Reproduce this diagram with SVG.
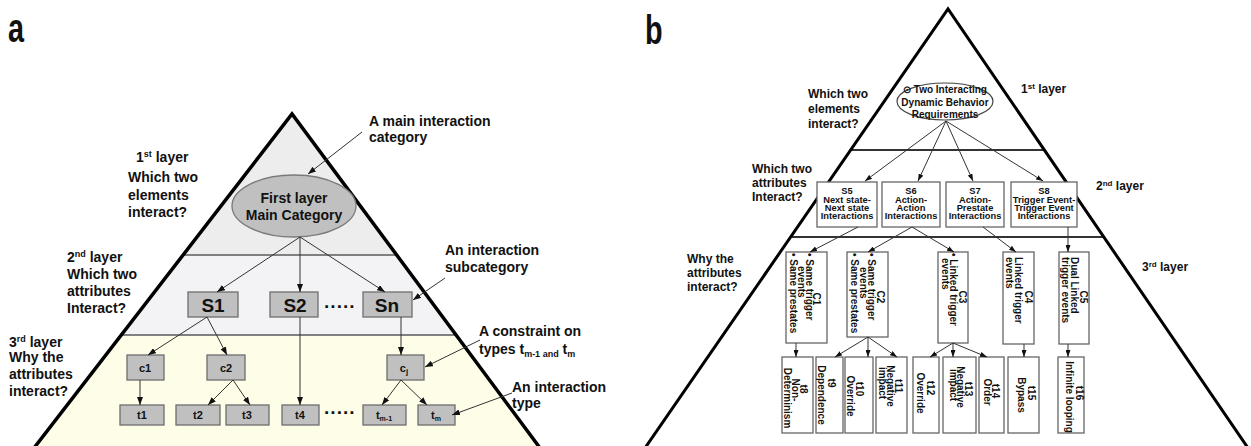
<svg xmlns="http://www.w3.org/2000/svg" width="1251" height="446" viewBox="0 0 1251 446">
  <defs>
    <marker id="ah" viewBox="0 0 8 6" refX="8" refY="3" markerWidth="8" markerHeight="6" markerUnits="userSpaceOnUse" orient="auto">
      <path d="M0,0 L8,3 L0,6 z" fill="#111"/>
    </marker>
    <marker id="ahs" viewBox="0 0 7 5" refX="7" refY="2.5" markerWidth="7" markerHeight="5" markerUnits="userSpaceOnUse" orient="auto">
      <path d="M0,0 L7,2.5 L0,5 z" fill="#111"/>
    </marker>
    <style>
      text { font-family: "Liberation Sans", Arial, sans-serif; fill: #111; }
      .b14 { font-size: 14px; font-weight: bold; }
      .b12 { font-size: 12px; font-weight: bold; }
      .b10 { font-size: 10px; font-weight: bold; }
      .s9 { font-size: 9.3px; font-weight: bold; }
      .big { font-size: 19px; font-weight: bold; }
      .sm { font-size: 11px; font-weight: bold; }
      .panel { font-size: 40px; font-weight: bold; }
      .gbox { fill: #c0c0c0; stroke: #6e6e6e; stroke-width: 1.3; }
      .wbox { fill: #ffffff; stroke: #666666; stroke-width: 1.3; }
      .edge { fill: none; stroke: #000; stroke-width: 3.5; stroke-linejoin: miter; }
      .sep { stroke: #808080; stroke-width: 2; }
      .sepb { stroke: #333; stroke-width: 2; }
      .conn { fill: none; stroke: #333; stroke-width: 1; marker-end: url(#ah); }
      .connb { fill: none; stroke: #333; stroke-width: 1; marker-end: url(#ahs); }
      .mid { text-anchor: middle; }
    </style>
  </defs>

  <!-- panel letters -->
  <text class="panel" x="8" y="42" transform="translate(8 0) scale(0.72 1) translate(-8 0)">a</text>
  <text class="panel" x="645" y="44" transform="translate(645 0) scale(0.72 1) translate(-645 0)">b</text>

  <!-- ===== Panel a: layered pyramid ===== -->
  <g id="pyramid-a">
    <polygon points="292,114 396,255 183.4,255" fill="#ededed"/>
    <polygon points="183.4,255 396,255 455.5,335 122,335" fill="#f3f3f6"/>
    <polygon points="122,335 455.5,335 540,446 34,446" fill="#fdfde8"/>
    <line class="sep" x1="183" y1="255" x2="396" y2="255"/>
    <line class="sep" x1="122" y1="335" x2="455" y2="335"/>
    <polyline class="edge" points="34,448 292,114 540,448"/>
  </g>

  <g id="layer-labels-a">
    <text class="b14" x="136" y="162">1<tspan font-size="9" dy="-5">st</tspan><tspan dy="5"> layer</tspan></text>
    <text class="b14" x="128" y="182">Which two</text>
    <text class="b14" x="128" y="200">elements</text>
    <text class="b14" x="128" y="217">interact?</text>
    <text class="b14" x="67" y="262">2<tspan font-size="9" dy="-5">nd</tspan><tspan dy="5"> layer</tspan></text>
    <text class="b14" x="67" y="279">Which two</text>
    <text class="b14" x="67" y="296">attributes</text>
    <text class="b14" x="67" y="313">Interact?</text>
    <text class="b14" x="9" y="347">3<tspan font-size="9" dy="-5">rd</tspan><tspan dy="5"> layer</tspan></text>
    <text class="b14" x="9" y="362">Why the</text>
    <text class="b14" x="9" y="379">attributes</text>
    <text class="b14" x="9" y="396">interact?</text>
  </g>

  <g id="main-category">
    <ellipse cx="294" cy="206" rx="62" ry="31" fill="#c0c0c0" stroke="#7a7a7a" stroke-width="1.3"/>
    <text class="b14 mid" x="294" y="203">First layer</text>
    <text class="b14 mid" x="294" y="220">Main Category</text>
  </g>

  <g id="S1"><rect class="gbox" x="188" y="292" width="50" height="25"/><text class="big mid" x="213" y="312">S1</text></g>
  <g id="S2"><rect class="gbox" x="270" y="292" width="48" height="25"/><text class="big mid" x="295" y="312">S2</text></g>
  <g id="Sn"><rect class="gbox" x="363" y="292" width="49" height="25"/><text class="big mid" x="387" y="312">Sn</text></g>
  <text class="big" x="324" y="313">·····</text>

  <g id="c1"><rect class="gbox" x="127" y="355" width="37" height="25"/><text class="sm mid" x="145" y="372">c1</text></g>
  <g id="c2"><rect class="gbox" x="207" y="355" width="38" height="25"/><text class="sm mid" x="226" y="372">c2</text></g>
  <g id="cj"><rect class="gbox" x="387" y="355" width="37" height="25"/><text class="sm mid" x="404" y="372">c<tspan font-size="8" dy="2">j</tspan></text></g>

  <g id="t1"><rect class="gbox" x="120" y="405" width="44" height="20"/><text class="sm mid" x="142" y="419">t1</text></g>
  <g id="t2"><rect class="gbox" x="176" y="405" width="44" height="20"/><text class="sm mid" x="198" y="419">t2</text></g>
  <g id="t3"><rect class="gbox" x="226" y="405" width="43" height="20"/><text class="sm mid" x="247" y="419">t3</text></g>
  <g id="t4"><rect class="gbox" x="282" y="405" width="37" height="20"/><text class="sm mid" x="300" y="419">t4</text></g>
  <text class="big" x="324" y="419">·····</text>
  <g id="tm-1"><rect class="gbox" x="363" y="405" width="43" height="20"/><text class="sm mid" x="384" y="419">t<tspan font-size="7" dy="2">m-1</tspan></text></g>
  <g id="tm"><rect class="gbox" x="418" y="405" width="37" height="20"/><text class="sm mid" x="436" y="419">t<tspan font-size="7" dy="2">m</tspan></text></g>

  <g id="annotations-a">
    <text class="b14" x="369" y="126">A main interaction</text>
    <text class="b14" x="369" y="142">category</text>
    <text class="b14" x="445" y="255">An interaction</text>
    <text class="b14" x="445" y="272">subcategory</text>
    <text class="b14" x="479" y="336">A constraint on</text>
    <text class="b14" x="479" y="354">types t<tspan font-size="9" dy="3">m-1 and</tspan><tspan dy="-3"> t</tspan><tspan font-size="9" dy="3">m</tspan></text>
    <text class="b14" x="512" y="392">An interaction</text>
    <text class="b14" x="512" y="408">type</text>
  </g>

  <g id="connectors-a">
    <line class="conn" x1="300" y1="237" x2="217" y2="292"/>
    <line class="conn" x1="300" y1="237" x2="300" y2="292"/>
    <line class="conn" x1="300" y1="237" x2="385" y2="292"/>
    <line class="conn" x1="207" y1="317" x2="148" y2="355"/>
    <line class="conn" x1="207" y1="317" x2="227" y2="355"/>
    <line class="conn" x1="140" y1="380" x2="140" y2="405"/>
    <line class="conn" x1="233" y1="380" x2="208" y2="405"/>
    <line class="conn" x1="233" y1="380" x2="250" y2="405"/>
    <line class="conn" x1="300" y1="317" x2="300" y2="405"/>
    <line class="conn" x1="401" y1="317" x2="401" y2="355"/>
    <line class="conn" x1="401" y1="380" x2="382" y2="405"/>
    <line class="conn" x1="401" y1="380" x2="427" y2="405"/>
    <line class="conn" x1="362" y1="132" x2="308" y2="174"/>
    <line class="conn" x1="445" y1="278" x2="413" y2="300"/>
    <line class="conn" x1="480" y1="340" x2="425" y2="367"/>
    <line class="conn" x1="512" y1="393" x2="452" y2="415"/>
  </g>

  <!-- ===== Panel b: dynamic behavior interaction taxonomy ===== -->
  <g id="pyramid-b">
    <line class="sepb" x1="851" y1="150" x2="1045" y2="150"/>
    <line class="sepb" x1="791" y1="237" x2="1104" y2="237"/>
    <polyline class="edge" style="stroke-width:3" points="645,448 948,9 1248,448"/>
  </g>

  <g id="layer-labels-b">
    <text class="b12" x="1021" y="93">1<tspan font-size="8" dy="-4">st</tspan><tspan dy="4"> layer</tspan></text>
    <text class="b12" x="808" y="98">Which two</text>
    <text class="b12" x="808" y="113">elements</text>
    <text class="b12" x="808" y="128">interact?</text>
    <text class="b12" x="1096" y="190">2<tspan font-size="8" dy="-4">nd</tspan><tspan dy="4"> layer</tspan></text>
    <text class="b12" x="752" y="173">Which two</text>
    <text class="b12" x="752" y="187">attributes</text>
    <text class="b12" x="752" y="201">Interact?</text>
    <text class="b12" x="1142" y="271">3<tspan font-size="8" dy="-4">rd</tspan><tspan dy="4"> layer</tspan></text>
    <text class="b12" x="687" y="263">Why the</text>
    <text class="b12" x="687" y="277">attributes</text>
    <text class="b12" x="687" y="291">interact?</text>
  </g>

  <g id="root-b">
    <ellipse cx="945" cy="101.5" rx="48" ry="18.5" fill="#fff" stroke="#444" stroke-width="1.2"/>
    <text class="b10 mid" x="945" y="93">⊙ Two Interacting</text>
    <text class="b10 mid" x="945" y="106">Dynamic Behavior</text>
    <text class="b10 mid" x="945" y="118">Requirements</text>
  </g>

  <g id="S5"><rect class="wbox" x="817" y="182" width="60" height="45"/>
    <text class="s9 mid" x="847" y="194">S5</text><text class="s9 mid" x="847" y="202.5">Next state-</text><text class="s9 mid" x="847" y="210.5">Next state</text><text class="s9 mid" x="847" y="219">Interactions</text></g>
  <g id="S6"><rect class="wbox" x="882" y="182" width="58" height="45"/>
    <text class="s9 mid" x="911" y="194">S6</text><text class="s9 mid" x="911" y="202.5">Action-</text><text class="s9 mid" x="911" y="210.5">Action</text><text class="s9 mid" x="911" y="219">Interactions</text></g>
  <g id="S7"><rect class="wbox" x="946" y="182" width="58" height="45"/>
    <text class="s9 mid" x="975" y="194">S7</text><text class="s9 mid" x="975" y="202.5">Action-</text><text class="s9 mid" x="975" y="210.5">Prestate</text><text class="s9 mid" x="975" y="219">Interactions</text></g>
  <g id="S8"><rect class="wbox" x="1011" y="182" width="66" height="45"/>
    <text class="s9 mid" x="1044" y="194">S8</text><text class="s9 mid" x="1044" y="202.5">Trigger Event-</text><text class="s9 mid" x="1044" y="210.5">Trigger Event</text><text class="s9 mid" x="1044" y="219">Interactions</text></g>

  <!-- constraints: text runs top to bottom -->
  <g id="C1"><rect class="wbox" x="786" y="252" width="41" height="91"/>
    <text class="b10 mid" transform="translate(813 299) rotate(90)">C1</text>
    <text class="b10" transform="translate(806 253) rotate(90)">• Same trigger</text>
    <text class="b10" transform="translate(798 266) rotate(90)">events</text>
    <text class="b10" transform="translate(790 253) rotate(90)">• Same prestates</text></g>
  <g id="C2"><rect class="wbox" x="847" y="252" width="41" height="85"/>
    <text class="b10 mid" transform="translate(877 297) rotate(90)">C2</text>
    <text class="b10" transform="translate(868 253) rotate(90)">• Same trigger</text>
    <text class="b10" transform="translate(860 267) rotate(90)">events</text>
    <text class="b10" transform="translate(851 253) rotate(90)">• Same prestates</text></g>
  <g id="C3"><rect class="wbox" x="938" y="252" width="30" height="91"/>
    <text class="b10 mid" transform="translate(959 297) rotate(90)">C3</text>
    <text class="b10" transform="translate(950 253) rotate(90)">• Linked trigger</text>
    <text class="b10" transform="translate(942 258) rotate(90)">events</text></g>
  <g id="C4"><rect class="wbox" x="1003" y="252" width="31" height="92"/>
    <text class="b10 mid" transform="translate(1025 297) rotate(90)">C4</text>
    <text class="b10" transform="translate(1015 257) rotate(90)">Linked trigger</text>
    <text class="b10" transform="translate(1006 257) rotate(90)">events</text></g>
  <g id="C5"><rect class="wbox" x="1059" y="252" width="30" height="92"/>
    <text class="b10 mid" transform="translate(1080 297) rotate(90)">C5</text>
    <text class="b10" transform="translate(1071 257) rotate(90)">Dual Linked</text>
    <text class="b10" transform="translate(1062 257) rotate(90)">trigger events</text></g>

  <!-- interaction types -->
  <g id="t8"><rect class="wbox" x="782" y="357" width="31" height="76"/>
    <text class="b10 mid" transform="translate(800 389) rotate(90)">t8</text>
    <text class="b10 mid" transform="translate(792 390) rotate(90)">Non-</text>
    <text class="b10 mid" transform="translate(783.5 398) rotate(90)">Determinism</text></g>
  <g id="t9"><rect class="wbox" x="816" y="357" width="27" height="76"/>
    <text class="b10 mid" transform="translate(828 383) rotate(90)">t9</text>
    <text class="b10 mid" transform="translate(818 395) rotate(90)">Dependence</text></g>
  <g id="t10"><rect class="wbox" x="845" y="357" width="28" height="76"/>
    <text class="b10 mid" transform="translate(856 389) rotate(90)">t10</text>
    <text class="b10 mid" transform="translate(847 396) rotate(90)">Override</text></g>
  <g id="t11"><rect class="wbox" x="876" y="357" width="31" height="76"/>
    <text class="b10 mid" transform="translate(895 386) rotate(90)">t11</text>
    <text class="b10 mid" transform="translate(887 386) rotate(90)">Negative</text>
    <text class="b10 mid" transform="translate(879 383) rotate(90)">impact</text></g>
  <g id="t12"><rect class="wbox" x="913" y="357" width="26" height="76"/>
    <text class="b10 mid" transform="translate(927 388) rotate(90)">t12</text>
    <text class="b10 mid" transform="translate(917 393) rotate(90)">Override</text></g>
  <g id="t13"><rect class="wbox" x="943" y="357" width="33" height="76"/>
    <text class="b10 mid" transform="translate(965 389) rotate(90)">t13</text>
    <text class="b10 mid" transform="translate(957 387) rotate(90)">Negative</text>
    <text class="b10 mid" transform="translate(950 385) rotate(90)">impact</text></g>
  <g id="t14"><rect class="wbox" x="979" y="357" width="25" height="76"/>
    <text class="b10 mid" transform="translate(992 391) rotate(90)">t14</text>
    <text class="b10 mid" transform="translate(984 392) rotate(90)">Order</text></g>
  <g id="t15"><rect class="wbox" x="1008" y="357" width="31" height="76"/>
    <text class="b10 mid" transform="translate(1028 393) rotate(90)">t15</text>
    <text class="b10 mid" transform="translate(1018 395) rotate(90)">Bypass</text></g>
  <g id="t16"><rect class="wbox" x="1058" y="357" width="26" height="76"/>
    <text class="b10 mid" transform="translate(1076 393) rotate(90)">t16</text>
    <text class="b10 mid" transform="translate(1066 397) rotate(90)">Infinite looping</text></g>

  <g id="connectors-b">
    <line class="connb" x1="946" y1="121" x2="865" y2="181"/>
    <line class="connb" x1="946" y1="121" x2="918" y2="181"/>
    <line class="connb" x1="946" y1="121" x2="973" y2="181"/>
    <line class="connb" x1="946" y1="121" x2="1043" y2="181"/>
    <line class="connb" x1="858" y1="227" x2="810" y2="252"/>
    <line class="connb" x1="912" y1="227" x2="868" y2="252"/>
    <line class="connb" x1="912" y1="227" x2="954" y2="252"/>
    <line class="connb" x1="983" y1="227" x2="1016" y2="252"/>
    <line class="connb" x1="1068" y1="227" x2="1068" y2="252"/>
    <line class="connb" x1="796" y1="343" x2="796" y2="357"/>
    <line class="connb" x1="868" y1="337" x2="835" y2="357"/>
    <line class="connb" x1="868" y1="337" x2="868" y2="357"/>
    <line class="connb" x1="868" y1="337" x2="897" y2="357"/>
    <line class="connb" x1="953" y1="343" x2="930" y2="357"/>
    <line class="connb" x1="953" y1="343" x2="953" y2="357"/>
    <line class="connb" x1="953" y1="343" x2="987" y2="357"/>
    <line class="connb" x1="1024" y1="344" x2="1024" y2="357"/>
    <line class="connb" x1="1068" y1="344" x2="1068" y2="357"/>
  </g>
</svg>
